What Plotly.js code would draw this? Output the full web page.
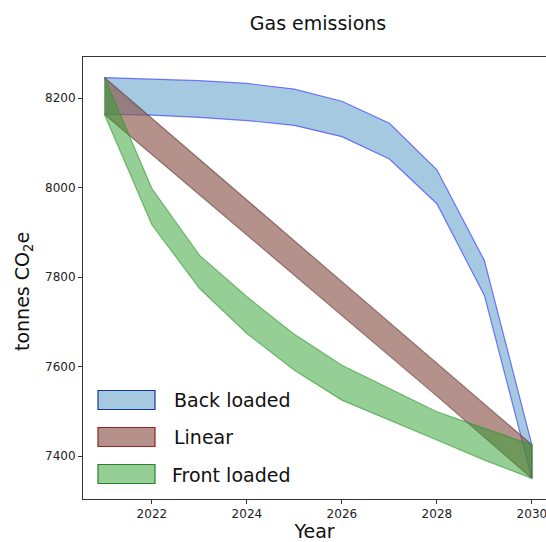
<!DOCTYPE html>
<html>
<head>
<meta charset="utf-8">
<script src="https://cdn.plot.ly/plotly-3.0.1.min.js"></script>
<style>html,body{margin:0;padding:0;background:#fff;overflow:hidden}#chart{width:546px;height:542px}</style>
</head>
<body>
<div id="chart"></div>
<script>
const years = [2021, 2022, 2023, 2024, 2025, 2026, 2027, 2028, 2029, 2030];

const backUpper  = [8246, 8242, 8239, 8233, 8220, 8193, 8144, 8040, 7837, 7425];
const backLower  = [8164, 8162, 8157, 8150, 8139, 8114, 8064, 7964, 7759, 7350];

const linearUpper = [8246, 8155, 8064, 7973, 7882, 7791, 7699, 7608, 7517, 7425];
const linearLower = [8164, 8074, 7984, 7894, 7804, 7714, 7624, 7534, 7443, 7350];

const frontUpper = [8246, 7998, 7849, 7756, 7672, 7603, 7551, 7499, 7462, 7425];
const frontLower = [8164, 7917, 7775, 7674, 7592, 7525, 7480, 7436, 7391, 7350];

const seriesNames = ['Back loaded', 'Linear', 'Front loaded'];

const xTickVals = [2022, 2024, 2026, 2028, 2030];
const yTickVals = [7400, 7600, 7800, 8000, 8200];

const styles = [
  {fill: 'rgba(31,119,180,0.4)', line: 'rgba(40,40,250,0.6)', edge: 'rgb(30,50,150)'},
  {fill: 'rgba(140,86,75,0.65)', line: 'rgba(90,45,40,0.55)', edge: 'rgb(150,35,35)'},
  {fill: 'rgba(44,160,44,0.5)', line: 'rgba(44,150,44,0.6)', edge: 'rgb(40,130,40)'}
];

const bands = [[backUpper, backLower], [linearUpper, linearLower], [frontUpper, frontLower]];

const traces = bands.map((b, i) => ({
  type: 'scatter',
  mode: 'lines',
  name: seriesNames[i],
  x: years.concat(years.slice().reverse()),
  y: b[0].concat(b[1].slice().reverse()),
  fill: 'toself',
  fillcolor: styles[i].fill,
  line: {color: styles[i].line, width: 1.2},
  hoverinfo: 'skip',
  showlegend: false
}));

// manual legend (matplotlib-style patches)
const W = 546, H = 542;
const ml = 83, mr = 0, mt = 57, mb = 43;
const pw = W - ml - mr, ph = H - mt - mb;
const px = x => (x - ml) / pw;
const py = y => 1 - (y - mt) / ph;
const legendRows = [400, 437, 474];
const shapes = [];
const annotations = [];
legendRows.forEach((yc, i) => {
  shapes.push({
    type: 'rect', xref: 'paper', yref: 'paper',
    x0: px(98), x1: px(155), y0: py(yc - 9.5), y1: py(yc + 9.5),
    fillcolor: styles[i].fill, line: {color: styles[i].edge, width: 1.2}
  });
  annotations.push({
    xref: 'paper', yref: 'paper', x: px(i === 2 ? 170 : 172), y: py(yc + (i === 2 ? 1 : 0)),
    xanchor: 'left', yanchor: 'middle', showarrow: false,
    text: seriesNames[i],
    font: {family: 'DejaVu Sans', size: 19, color: '#111'}
  });
});
// y-axis title placed like the reference
annotations.push({
  xref: 'paper', yref: 'paper', x: px(23), y: py(291),
  xanchor: 'center', yanchor: 'middle', showarrow: false, textangle: -90,
  text: 'tonnes CO<sub>2</sub>e',
  font: {family: 'DejaVu Sans', size: 19, color: '#111'}
});

const layout = {
  width: W, height: H,
  margin: {l: ml, r: mr, t: mt, b: mb, pad: 0},
  paper_bgcolor: '#fff', plot_bgcolor: '#fff',
  showlegend: false,
  font: {family: 'DejaVu Sans', color: '#222'},
  title: {text: 'Gas emissions', x: 318 / W, xanchor: 'center', y: 1 - 23 / H, yanchor: 'middle',
          font: {family: 'DejaVu Sans', size: 19, color: '#111'}},
  xaxis: {
    range: [2020.55, 2030.297],
    tickvals: xTickVals,
    ticktext: xTickVals.map(String),
    ticklabeloverflow: 'allow',
    ticks: 'outside', ticklen: 4, tickwidth: 1, tickcolor: '#333',
    showgrid: false, zeroline: false,
    showline: true, linecolor: '#333', linewidth: 1, mirror: true,
    tickfont: {family: 'DejaVu Sans', size: 12, color: '#222'},
    title: {text: 'Year', font: {family: 'DejaVu Sans', size: 19, color: '#111'}, standoff: 4}
  },
  yaxis: {
    range: [7304, 8292],
    tickvals: yTickVals,
    ticktext: yTickVals.map(String),
    ticks: 'outside', ticklen: 4, tickwidth: 1, tickcolor: '#333',
    showgrid: false, zeroline: false,
    showline: true, linecolor: '#333', linewidth: 1, mirror: false,
    tickfont: {family: 'DejaVu Sans', size: 12, color: '#222'}
  },
  shapes: shapes,
  annotations: annotations
};

Plotly.newPlot('chart', traces, layout, {displayModeBar: false, staticPlot: true});
</script>
</body>
</html>
